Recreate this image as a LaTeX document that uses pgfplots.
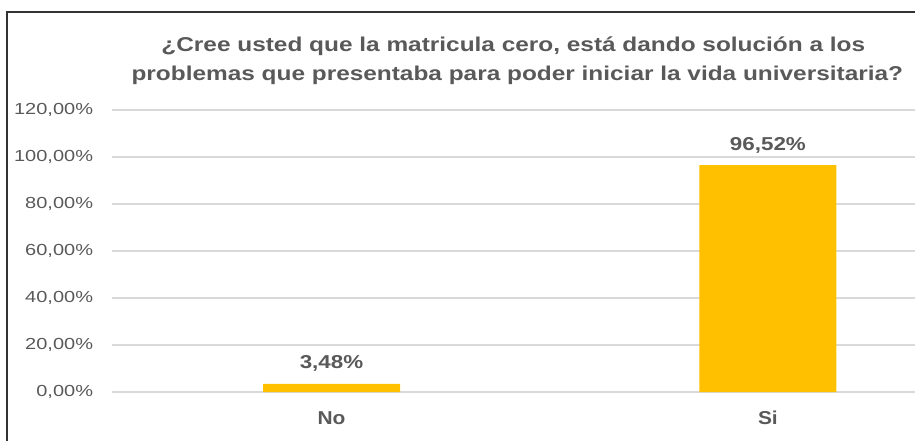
\documentclass[border=0pt]{standalone}
\usepackage{fontspec}
\setmainfont{Liberation Sans}[FakeStretch=1.12]
\newfontfamily\titlefont{Liberation Sans}[FakeStretch=1.22]
\newfontfamily\tickfont{Liberation Sans}[FakeStretch=1.25]
\newfontfamily\labfont{Liberation Sans}[FakeStretch=1.2]
\usepackage{pgfplots}
\pgfplotsset{compat=1.18}
\definecolor{txt}{HTML}{595959}
\definecolor{gridc}{HTML}{D9D9D9}
\definecolor{bargold}{HTML}{FFC000}
\begin{document}
\begin{tikzpicture}
\useasboundingbox (0,0) rectangle (686.25pt,330pt);
\clip (0,0) rectangle (686.25pt,330pt);
\draw[black!80, line width=1.1pt] (5.25pt,-5pt) -- (5.25pt,321pt) -- (690pt,321pt);
\node[text=txt, font=\titlefont\fontsize{15}{17}\selectfont\bfseries] at (385pt,295.5pt) {¿Cree usted que la matricula cero, está dando solución a los};
\node[text=txt, font=\titlefont\fontsize{15}{17}\selectfont\bfseries] at (388pt,273.75pt) {problemas que presentaba para poder iniciar la vida universitaria?};
\begin{axis}[
  at={(84pt,36pt)}, anchor=south west,
  scale only axis, width=602.25pt, height=211.5pt,
  xmin=-0.503, xmax=1.337, ymin=0, ymax=120,
  ybar, bar width=102.75pt,
  xtick={0,1}, xticklabels={No,Si},
  ytick={0,20,...,120},
  /pgf/number format/assume math mode=true,
  yticklabel={\pgfmathprintnumber[fixed,fixed zerofill,precision=2,use comma]{\tick}\%},
  axis line style={draw=none},
  major tick length=0pt,
  ymajorgrids, grid style={gridc, line width=0.9pt},
  yticklabel style={text=txt, font=\tickfont\fontsize{12}{14}\selectfont, anchor=east, inner sep=0pt, xshift=-14pt},
  xticklabel style={text=txt, font=\fontsize{14}{16}\selectfont\bfseries, anchor=base, inner sep=0pt, yshift=-24pt},
  nodes near coords={\pgfmathprintnumber[fixed,fixed zerofill,precision=2,use comma]{\pgfplotspointmeta}\%},
  nodes near coords style={text=txt, font=\labfont\fontsize{14}{16}\selectfont\bfseries, anchor=base, inner sep=0pt, yshift=11.25pt},
  clip=false,
]
\addplot[fill=bargold, draw=none] coordinates {(0,3.48) (1,96.52)};
\end{axis}
\end{tikzpicture}
\end{document}
